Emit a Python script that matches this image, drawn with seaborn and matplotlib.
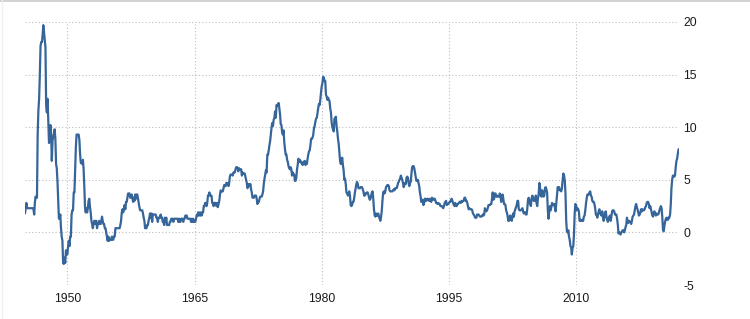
import numpy as np
import pandas as pd
import matplotlib
matplotlib.use("Agg")
import matplotlib.pyplot as plt
import seaborn as sns
from matplotlib.lines import Line2D

# US CPI inflation rate, year-over-year %, monthly from Jan 1945
cpi_1940s = [
    1.8, 2.3, 2.8, 2.3, 2.3, 2.3, 2.3, 2.3, 2.3, 2.3, 2.3, 2.3,
    2.2, 1.7, 2.8, 3.4, 3.3, 3.3, 9.4, 11.6, 12.7, 14.9, 17.7, 18.1,
    18.1, 18.8, 19.7, 19.0, 18.4, 17.6, 12.1, 11.4, 12.7, 10.6, 8.5, 8.8,
    10.2, 9.3, 6.8, 8.7, 9.1, 9.4, 9.8, 8.9, 6.5, 6.1, 4.8, 3.0,
    1.3, 1.3, 1.7, 0.4, -0.4, -0.8, -2.9, -3.0, -2.4, -2.9, -1.7, -2.1,
]
cpi_1950s = [
    -2.1, -1.3, -0.8, -1.3, -0.4, -0.4, 1.7, 2.1, 2.1, 3.8, 3.8, 5.9,
    8.1, 9.3, 9.3, 9.3, 9.3, 8.8, 7.5, 6.6, 6.6, 6.5, 6.9, 6.0,
    4.3, 2.3, 1.9, 2.3, 1.9, 2.3, 3.0, 3.2, 2.4, 1.9, 1.1, 0.8,
    0.4, 0.8, 1.1, 0.8, 1.1, 1.1, 0.4, 0.8, 0.8, 1.1, 0.8, 0.8,
    1.1, 1.5, 1.1, 0.8, 0.8, 0.4, 0.4, 0.0, -0.4, -0.8, -0.4, -0.8,
    -0.7, -0.7, -0.7, -0.4, -0.7, -0.7, -0.4, -0.4, 0.4, 0.4, 0.4, 0.4,
    0.4, 0.4, 0.4, 0.7, 1.1, 1.9, 2.2, 1.9, 2.2, 2.6, 2.2, 2.9,
    2.9, 3.3, 3.7, 3.7, 3.7, 3.3, 3.3, 3.6, 3.3, 2.9, 3.3, 3.0,
    3.6, 3.2, 3.6, 3.6, 3.2, 2.8, 2.4, 2.1, 2.1, 2.1, 2.1, 1.8,
    1.4, 1.1, 0.4, 0.4, 0.4, 0.7, 0.7, 1.1, 1.4, 1.8, 1.4, 1.8,
]
cpi_1960s = [
    1.0, 1.7, 1.7, 1.7, 1.7, 1.7, 1.4, 1.4, 1.0, 1.4, 1.4, 1.4,
    1.7, 1.4, 1.4, 1.0, 1.0, 0.7, 1.4, 1.0, 1.4, 0.7, 0.7, 0.7,
    0.7, 1.0, 1.0, 1.3, 1.3, 1.3, 1.0, 1.3, 1.3, 1.3, 1.3, 1.3,
    1.3, 1.0, 1.3, 1.0, 1.0, 1.3, 1.3, 1.3, 1.0, 1.3, 1.3, 1.6,
    1.6, 1.6, 1.3, 1.3, 1.3, 1.3, 1.3, 1.0, 1.3, 1.0, 1.3, 1.0,
    1.0, 1.0, 1.3, 1.6, 1.6, 1.9, 1.6, 1.9, 1.6, 1.9, 1.6, 1.9,
    1.9, 2.5, 2.5, 2.8, 2.8, 2.5, 2.8, 3.5, 3.5, 3.8, 3.5, 3.5,
    3.5, 2.8, 2.8, 2.5, 2.8, 2.8, 2.8, 2.5, 2.8, 2.4, 2.7, 3.0,
    3.6, 4.0, 3.9, 3.9, 3.9, 4.2, 4.5, 4.4, 4.4, 4.7, 4.7, 4.7,
    4.4, 4.7, 5.3, 5.5, 5.5, 5.5, 5.4, 5.7, 5.7, 5.7, 6.0, 6.2,
]
cpi_1970s = [
    6.2, 6.1, 5.8, 6.1, 6.0, 6.0, 6.0, 5.4, 5.7, 5.6, 5.6, 5.6,
    5.3, 5.0, 4.7, 4.2, 4.4, 4.6, 4.4, 4.6, 4.1, 3.8, 3.3, 3.3,
    3.3, 3.5, 3.5, 3.5, 3.2, 2.7, 2.9, 2.9, 3.2, 3.4, 3.4, 3.4,
    3.6, 3.9, 4.6, 5.1, 5.5, 5.9, 5.7, 7.4, 7.4, 7.8, 8.3, 8.7,
    9.4, 10.0, 10.4, 10.1, 10.7, 10.9, 11.5, 10.9, 12.1, 12.0, 12.2, 12.3,
    11.8, 11.2, 10.3, 10.2, 9.5, 9.3, 9.7, 8.6, 7.9, 7.4, 7.4, 6.9,
    6.7, 6.3, 6.1, 6.0, 6.2, 6.0, 5.4, 5.7, 5.5, 5.5, 4.9, 4.9,
    5.2, 6.0, 6.4, 7.0, 6.7, 6.9, 6.8, 6.6, 6.6, 6.4, 6.7, 6.7,
    6.8, 6.4, 6.6, 6.5, 7.0, 7.4, 7.7, 7.8, 8.3, 8.9, 8.9, 9.0,
    9.3, 9.9, 10.1, 10.5, 10.8, 10.9, 11.3, 11.8, 12.2, 12.1, 12.6, 13.3,
]
cpi_1980s = [
    13.9, 14.2, 14.8, 14.7, 14.4, 14.4, 13.1, 12.9, 12.6, 12.8, 12.6, 12.5,
    11.8, 11.4, 10.5, 10.0, 9.8, 9.6, 10.8, 10.8, 11.0, 10.1, 9.6, 8.9,
    8.4, 7.6, 6.8, 6.5, 6.7, 7.1, 6.4, 5.9, 5.0, 5.1, 4.6, 3.8,
    3.7, 3.5, 3.6, 3.9, 3.5, 2.6, 2.5, 2.6, 2.9, 2.9, 3.3, 3.8,
    4.2, 4.6, 4.8, 4.6, 4.2, 4.2, 4.2, 4.3, 4.3, 4.3, 4.1, 3.9,
    3.5, 3.5, 3.7, 3.7, 3.8, 3.8, 3.6, 3.3, 3.1, 3.2, 3.5, 3.8,
    3.9, 3.1, 2.2, 1.6, 1.5, 1.8, 1.6, 1.6, 1.8, 1.5, 1.3, 1.1,
    1.5, 2.1, 3.0, 3.8, 3.9, 3.7, 3.9, 4.3, 4.4, 4.5, 4.5, 4.4,
    4.0, 3.9, 3.9, 3.9, 3.9, 4.0, 4.1, 4.0, 4.2, 4.2, 4.2, 4.4,
    4.7, 4.8, 5.0, 5.1, 5.4, 5.2, 5.0, 4.7, 4.3, 4.5, 4.7, 4.6,
]
cpi_1990s = [
    5.2, 5.3, 5.2, 4.7, 4.4, 4.7, 4.8, 5.6, 6.2, 6.3, 6.3, 6.1,
    5.7, 5.3, 4.9, 4.9, 5.0, 4.7, 4.4, 3.8, 3.4, 2.9, 3.0, 3.1,
    2.6, 2.8, 3.2, 3.2, 3.0, 3.1, 3.2, 3.1, 3.0, 3.2, 3.0, 2.9,
    3.3, 3.2, 3.1, 3.2, 3.2, 3.0, 2.8, 2.8, 2.7, 2.8, 2.7, 2.7,
    2.5, 2.5, 2.5, 2.4, 2.3, 2.5, 2.8, 2.9, 3.0, 2.6, 2.7, 2.7,
    2.8, 2.9, 2.9, 3.1, 3.2, 3.0, 2.8, 2.6, 2.5, 2.8, 2.6, 2.5,
    2.7, 2.7, 2.8, 2.9, 2.9, 2.8, 3.0, 2.9, 3.0, 3.0, 3.3, 3.3,
    3.0, 3.0, 2.8, 2.5, 2.2, 2.3, 2.2, 2.2, 2.2, 2.1, 1.8, 1.7,
    1.6, 1.4, 1.4, 1.4, 1.7, 1.7, 1.7, 1.6, 1.5, 1.5, 1.5, 1.6,
    1.7, 1.6, 1.7, 2.3, 2.1, 2.0, 2.1, 2.3, 2.6, 2.6, 2.6, 2.7,
]
cpi_2000s = [
    2.7, 3.2, 3.8, 3.1, 3.2, 3.7, 3.7, 3.4, 3.5, 3.4, 3.4, 3.4,
    3.7, 3.5, 2.9, 3.3, 3.6, 3.2, 2.7, 2.7, 2.6, 2.1, 1.9, 1.6,
    1.1, 1.1, 1.5, 1.6, 1.2, 1.1, 1.5, 1.8, 1.5, 2.0, 2.2, 2.4,
    2.6, 3.0, 3.0, 2.2, 2.1, 2.1, 2.1, 2.2, 2.3, 2.0, 1.8, 1.9,
    1.9, 1.7, 1.7, 2.3, 3.1, 3.3, 3.0, 2.7, 2.5, 3.2, 3.5, 3.3,
    3.0, 3.0, 3.1, 3.5, 2.8, 2.5, 3.2, 3.6, 4.7, 4.3, 3.5, 3.4,
    4.0, 3.6, 3.4, 3.5, 4.2, 4.3, 4.1, 3.8, 2.1, 1.3, 2.0, 2.5,
    2.1, 2.4, 2.8, 2.6, 2.7, 2.7, 2.4, 2.0, 2.8, 3.5, 4.3, 4.1,
    4.3, 4.0, 4.0, 3.9, 4.2, 5.0, 5.6, 5.4, 4.9, 3.7, 1.1, 0.1,
    0.0, 0.2, -0.4, -0.7, -1.3, -1.4, -2.1, -1.5, -1.3, -0.2, 1.8, 2.7,
]
cpi_2010s = [
    2.6, 2.1, 2.3, 2.2, 2.0, 1.1, 1.2, 1.1, 1.1, 1.2, 1.1, 1.5,
    1.6, 2.1, 2.7, 3.2, 3.6, 3.6, 3.6, 3.8, 3.9, 3.5, 3.4, 3.0,
    2.9, 2.9, 2.7, 2.3, 1.7, 1.7, 1.4, 1.7, 2.0, 2.2, 1.8, 1.7,
    1.6, 2.0, 1.5, 1.1, 1.4, 1.8, 2.0, 1.5, 1.2, 1.0, 1.2, 1.5,
    1.6, 1.1, 1.5, 2.0, 2.1, 2.1, 2.0, 1.7, 1.7, 1.7, 1.3, 0.8,
    -0.1, 0.0, -0.1, -0.2, 0.0, 0.1, 0.2, 0.2, 0.0, 0.2, 0.5, 0.7,
    1.4, 1.0, 0.9, 1.1, 1.0, 1.0, 0.8, 1.1, 1.5, 1.6, 1.7, 2.1,
    2.5, 2.7, 2.4, 2.2, 1.9, 1.6, 1.7, 1.9, 2.2, 2.0, 2.2, 2.1,
    2.1, 2.2, 2.4, 2.5, 2.8, 2.9, 2.9, 2.7, 2.3, 2.5, 2.2, 1.9,
    1.6, 1.5, 1.9, 2.0, 1.8, 1.6, 1.8, 1.7, 1.7, 1.8, 2.1, 2.3,
]
cpi_2020s = [
    2.5, 2.3, 1.5, 0.3, 0.1, 0.6, 1.0, 1.3, 1.4, 1.2, 1.2, 1.4,
    1.4, 1.7, 2.6, 4.2, 5.0, 5.4, 5.4, 5.3, 5.4, 6.2, 6.8, 7.0,
    7.5, 7.9,
]

x_tick_years = [1950, 1965, 1980, 1995, 2010]
y_ticks = [-5, 0, 5, 10, 15, 20]

values = (cpi_1940s + cpi_1950s + cpi_1960s + cpi_1970s + cpi_1980s
          + cpi_1990s + cpi_2000s + cpi_2010s + cpi_2020s)
dates = pd.date_range("1945-01-01", periods=len(values), freq="MS")
df = pd.DataFrame({"date": dates, "inflation": values})

sns.set_theme(style="white")
plt.rcParams["font.family"] = ["Liberation Sans", "DejaVu Sans"]

fig = plt.figure(figsize=(7.5, 3.19), dpi=100)
ax = fig.add_axes([25 / 750, 1 - 285 / 319, (679 - 25) / 750, (285 - 22) / 319])

sns.lineplot(data=df, x="date", y="inflation", ax=ax, color="#36659a",
             linewidth=1.6, zorder=3)

ax.set_xlim(pd.Timestamp("1945-01-01"), pd.Timestamp("2022-02-20"))
ax.set_ylim(-5, 20)
ax.set_xticks([pd.Timestamp(f"{y}-01-01") for y in x_tick_years])
ax.set_xticklabels([str(y) for y in x_tick_years])
ax.set_yticks(y_ticks)
ax.set_yticklabels([str(v) for v in y_ticks])
ax.yaxis.tick_right()
ax.set_xlabel("")
ax.set_ylabel("")
for s in ax.spines.values():
    s.set_visible(False)
ax.grid(True, linestyle=(0, (1, 2)), color="#bdbdbd", linewidth=0.8, zorder=0)
ax.tick_params(axis="both", length=0, labelsize=8.7, labelcolor="#1a1a1a")
ax.tick_params(axis="x", pad=6)
ax.tick_params(axis="y", pad=3)

# thin frame: visible top edge, very faint left edge
fig.add_artist(Line2D([0, 1], [0.996, 0.996], transform=fig.transFigure,
                      color="#d2d2d2", linewidth=1.4))
fig.add_artist(Line2D([0.002, 0.002], [0, 1], transform=fig.transFigure,
                      color="#efefef", linewidth=1.0))

fig.savefig("out.png", dpi=100)
